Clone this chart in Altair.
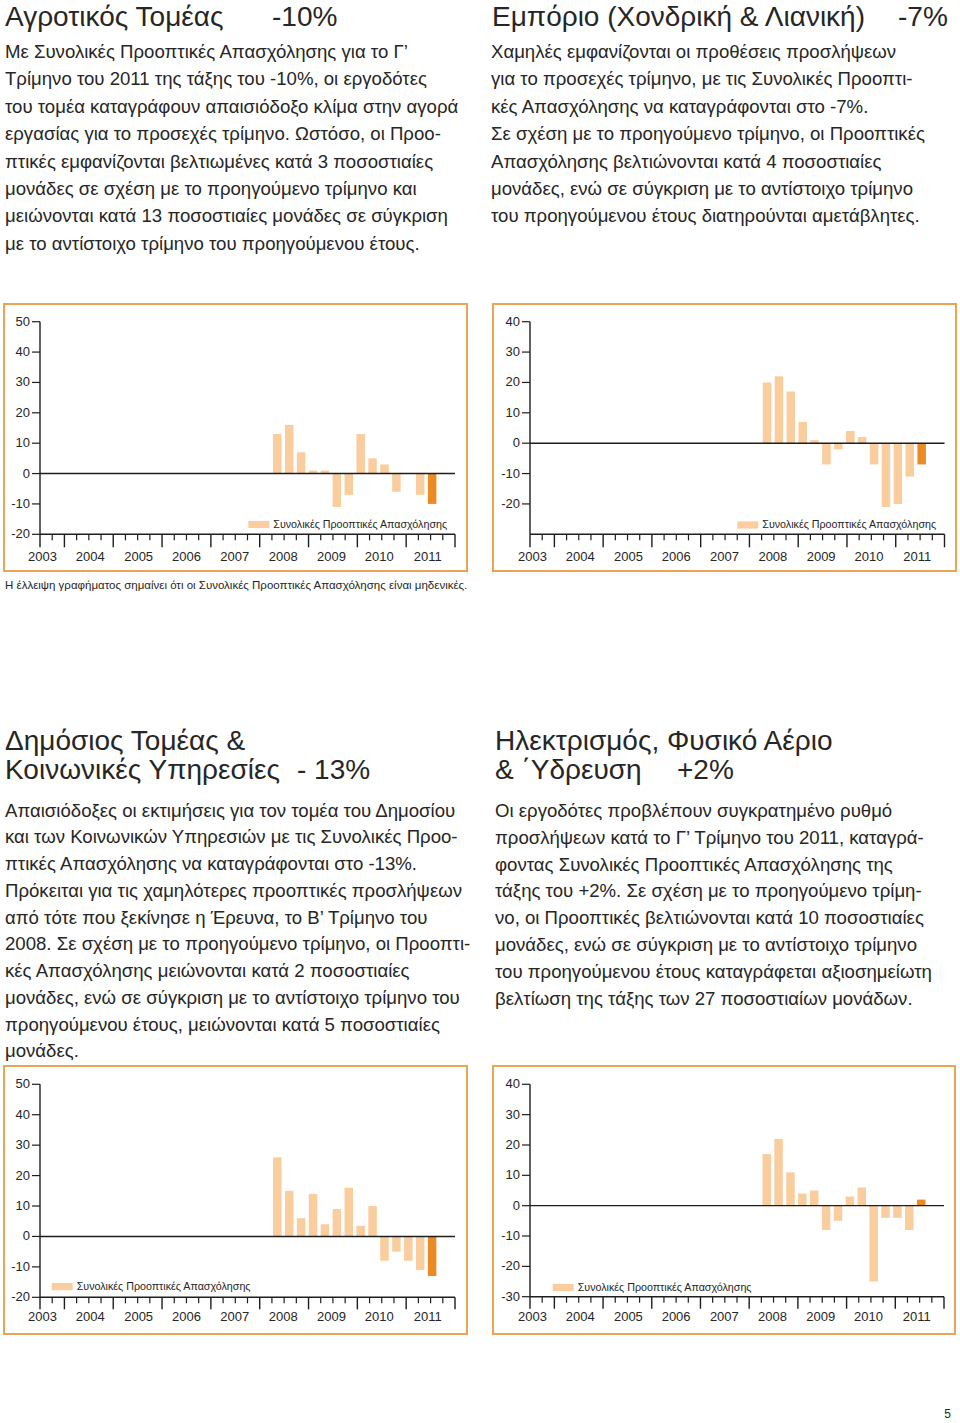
import altair as alt
import pandas as pd

FONT = "Liberation Sans"
TXT = "#262626"
LIGHT = "#F9CD9E"
DARK = "#EC8A24"
FRAME = "#EDA452"
AXIS = "#1e1e1e"
W, H = 960, 1423

# ---------------- data ----------------
quarters = ["2008Q2", "2008Q3", "2008Q4", "2009Q1", "2009Q2", "2009Q3", "2009Q4",
            "2010Q1", "2010Q2", "2010Q3", "2010Q4", "2011Q1", "2011Q2", "2011Q3"]
agri = [13, 16, 7, 1, 1, -11, -7, 13, 5, 3, -6, 0, -7, -10]
trade = [20, 22, 17, 7, 1, -7, -2, 4, 2, -7, -21, -20, -11, -7]
public = [26, 15, 6, 14, 4, 9, 16, 3.5, 10, -8, -5, -8, -11, -13]
utilities = [17, 22, 11, 4, 5, -8, -5, 3, 6, -25, -4, -4, -8, 2]

years = [2003, 2004, 2005, 2006, 2007, 2008, 2009, 2010, 2011]
year_labels = [str(y) for y in years]
year_label_pos = [2003.55, 2004.53, 2005.52, 2006.5, 2007.49, 2008.48, 2009.47, 2010.45, 2011.44]
yticks_50 = [50, 40, 30, 20, 10, 0, -10, -20]
yticks_40 = [40, 30, 20, 10, 0, -10, -20]
yticks_40b = [40, 30, 20, 10, 0, -10, -20, -30]
legend_label = "Συνολικές Προοπτικές Απασχόλησης"

X0, X1 = 2003.5, 2012.0
major_ticks = [X0] + [float(y) for y in range(2004, 2013)]
minor_ticks = [2003.75] + [y + k / 4 for y in range(2004, 2012) for k in (1, 2, 3)]


def qpos(q):
    return int(q[:4]) + (int(q[-1]) - 1) / 4 + 0.125


# identity pixel scales for page furniture (text, frames)
PX = alt.Scale(domain=[0, W], range=[0, W], nice=False, zero=False)
PY = alt.Scale(domain=[0, H], range=[0, H], nice=False, zero=False)


def panel(values, ydom, yticks, xr, yr, label_dy, tick_major, leg):
    xs = alt.Scale(domain=[X0, X1], range=xr, nice=False, zero=False)
    ys = alt.Scale(domain=ydom, range=yr, nice=False, zero=False)
    ymin, ymax = ydom
    X = lambda f: alt.X(f, type="quantitative", scale=xs, axis=None)
    Y = lambda f: alt.Y(f, type="quantitative", scale=ys, axis=None)

    df = pd.DataFrame({"t": [qpos(q) for q in quarters], "v": values, "base": 0})
    past = df.iloc[:-1]
    last = df.iloc[-1:]
    bars_p = alt.Chart(past).mark_bar(size=8.5, color=LIGHT).encode(x=X("t"), y=Y("v"), y2="base")
    bars_l = alt.Chart(last).mark_bar(size=8.5, color=DARK).encode(x=X("t"), y=Y("v"), y2="base")

    zero = alt.Chart(pd.DataFrame({"a": [X0], "b": [X1], "y": [0]})).mark_rule(
        color=AXIS, strokeWidth=1.4).encode(x=X("a"), x2="b", y=Y("y"))
    xaxis = alt.Chart(pd.DataFrame({"a": [X0], "b": [X1], "y": [ymin]})).mark_rule(
        color=AXIS, strokeWidth=1.4).encode(x=X("a"), x2="b", y=Y("y"))
    yaxis = alt.Chart(pd.DataFrame({"x": [X0], "a": [ymax], "b": [ymin]})).mark_rule(
        color=AXIS, strokeWidth=1.4).encode(x=X("x"), y=Y("a"), y2="b")

    ydf = pd.DataFrame({"x": X0, "v": yticks, "lab": [str(v) for v in yticks]})
    ytk = alt.Chart(ydf).mark_rule(color=AXIS, strokeWidth=1.2, xOffset=-8).encode(
        x=X("x"), x2="x", y=Y("v"))
    ylab = alt.Chart(ydf).mark_text(align="right", baseline="middle", dx=-10, font=FONT,
                                    fontSize=13, color=TXT).encode(x=X("x"), y=Y("v"), text="lab:N")

    mj = alt.Chart(pd.DataFrame({"t": major_ticks, "y": ymin})).mark_rule(
        color=AXIS, strokeWidth=1.4, y2Offset=tick_major).encode(x=X("t"), y=Y("y"), y2="y")
    mn = alt.Chart(pd.DataFrame({"t": minor_ticks, "y": ymin})).mark_rule(
        color=AXIS, strokeWidth=1.2, y2Offset=6).encode(x=X("t"), y=Y("y"), y2="y")
    xlab = alt.Chart(pd.DataFrame({"t": year_label_pos, "y": ymin, "lab": year_labels})).mark_text(
        align="center", baseline="middle", dy=label_dy, font=FONT, fontSize=13, color=TXT).encode(
        x=X("t"), y=Y("y"), text="lab:N")

    lx, ly = leg
    sw = alt.Chart(pd.DataFrame({"a": [lx], "b": [lx + 21], "c": [ly - 3.6], "d": [ly + 3.6]})).mark_rect(
        color=LIGHT).encode(
        x=alt.X("a:Q", scale=PX, axis=None), x2="b",
        y=alt.Y("c:Q", scale=PY, axis=None), y2="d")
    lt = alt.Chart(pd.DataFrame({"x": [lx + 25], "y": [ly], "lab": [legend_label]})).mark_text(
        align="left", baseline="middle", font=FONT, fontSize=10.7, color=TXT).encode(
        x=alt.X("x:Q", scale=PX, axis=None), y=alt.Y("y:Q", scale=PY, axis=None), text="lab:N")
    return [bars_p, bars_l, zero, yaxis, xaxis, ytk, ylab, mj, mn, xlab, sw, lt]


# ---------------- text blocks ----------------
tl_lines = [
    "Με Συνολικές Προοπτικές Απασχόλησης για το Γ’",
    "Τρίμηνο του 2011 της τάξης του -10%, οι εργοδότες",
    "του τομέα καταγράφουν απαισιόδοξο κλίμα στην αγορά",
    "εργασίας  για το προσεχές τρίμηνο. Ωστόσο, οι Προο-",
    "πτικές εμφανίζονται βελτιωμένες κατά 3 ποσοστιαίες",
    "μονάδες σε σχέση με το προηγούμενο τρίμηνο και",
    "μειώνονται  κατά 13 ποσοστιαίες μονάδες  σε σύγκριση",
    "με το αντίστοιχο τρίμηνο του προηγούμενου έτους.",
]
tr_lines = [
    "Χαμηλές εμφανίζονται οι προθέσεις  προσλήψεων",
    "για το προσεχές τρίμηνο, με τις Συνολικές Προοπτι-",
    "κές Απασχόλησης να καταγράφονται στο -7%.",
    "Σε σχέση με το προηγούμενο τρίμηνο, οι Προοπτικές",
    "Απασχόλησης βελτιώνονται κατά 4 ποσοστιαίες",
    "μονάδες, ενώ σε σύγκριση με το αντίστοιχο τρίμηνο",
    "του προηγούμενου έτους διατηρούνται αμετάβλητες.",
]
bl_lines = [
    "Απαισιόδοξες οι εκτιμήσεις για τον τομέα του Δημοσίου",
    "και των Κοινωνικών Υπηρεσιών με τις  Συνολικές Προο-",
    "πτικές Απασχόλησης να καταγράφονται στο -13%.",
    "Πρόκειται για τις χαμηλότερες  προοπτικές προσλήψεων",
    "από τότε που ξεκίνησε η Έρευνα, το Β’ Τρίμηνο του",
    "2008. Σε σχέση με το προηγούμενο τρίμηνο, οι Προοπτι-",
    "κές Απασχόλησης μειώνονται κατά 2 ποσοστιαίες",
    "μονάδες, ενώ σε σύγκριση με το αντίστοιχο τρίμηνο του",
    "προηγούμενου έτους, μειώνονται κατά 5 ποσοστιαίες",
    "μονάδες.",
]
br_lines = [
    "Οι εργοδότες προβλέπουν συγκρατημένο ρυθμό",
    "προσλήψεων κατά το Γ’ Τρίμηνο του 2011, καταγρά-",
    "φοντας Συνολικές Προοπτικές Απασχόλησης της",
    "τάξης του +2%. Σε σχέση με το προηγούμενο τρίμη-",
    "νο, οι Προοπτικές βελτιώνονται κατά 10 ποσοστιαίες",
    "μονάδες, ενώ σε σύγκριση με το αντίστοιχο τρίμηνο",
    "του προηγούμενου έτους καταγράφεται αξιοσημείωτη",
    "βελτίωση της τάξης των 27 ποσοστιαίων μονάδων.",
]
titles = [
    ("Αγροτικός Τομέας", 5, 26), ("-10%", 272, 26),
    ("Εμπόριο (Χονδρική & Λιανική)", 492, 26), ("-7%", 898, 26),
    ("Δημόσιος Τομέας &", 5, 750), ("Κοινωνικές Υπηρεσίες", 5, 778.5), ("- 13%", 297, 778.5),
    ("Ηλεκτρισμός, Φυσικό Αέριο", 495, 750), ("& ΄Υδρευση", 495, 778.5), ("+2%", 677, 778.5),
]
footnote = "Η έλλειψη γραφήματος σημαίνει ότι οι Συνολικές Προοπτικές Απασχόλησης είναι μηδενικές."
page_no = "5"

title_df = pd.DataFrame(titles, columns=["text", "x", "y"])
para_rows = []
for lines, x, y0, dy in [(tl_lines, 5, 58, 27.4), (tr_lines, 491, 58, 27.4),
                         (bl_lines, 5, 816.7, 26.75), (br_lines, 495, 816.7, 26.9)]:
    for i, l in enumerate(lines):
        para_rows.append({"x": x, "y": y0 + i * dy, "text": l})
para_df = pd.DataFrame(para_rows)
foot_df = pd.DataFrame({"x": [5], "y": [589], "text": [footnote]})
page_df = pd.DataFrame({"x": [951], "y": [1418], "text": [page_no]})


def text_layer(df, size, align="left"):
    return alt.Chart(df).mark_text(align=align, baseline="alphabetic", font=FONT, color=TXT,
                                   fontSize=size).encode(
        x=alt.X("x:Q", scale=PX, axis=None),
        y=alt.Y("y:Q", scale=PY, axis=None),
        text="text:N",
    )


frames_df = pd.DataFrame({
    "x": [4, 493, 4, 493], "x2": [467, 956, 467, 955],
    "y": [304, 304, 1066, 1066], "y2": [571, 571, 1334, 1334],
})
frames = alt.Chart(frames_df).mark_rect(fillOpacity=0, stroke=FRAME, strokeWidth=2).encode(
    x=alt.X("x:Q", scale=PX, axis=None), x2="x2:Q",
    y=alt.Y("y:Q", scale=PY, axis=None), y2="y2:Q",
)

layers = [frames, text_layer(title_df, 28), text_layer(para_df, 18.6),
          text_layer(foot_df, 11.5), text_layer(page_df, 12, "right")]
layers += panel(agri, [-20, 50], yticks_50, [40, 455], [534.3, 321.7], 23, 13, (248.3, 524.5))
layers += panel(trade, [-30, 40], yticks_40, [530, 944.5], [534.3, 321.7], 22.5, 13, (737.3, 525))
layers += panel(public, [-20, 50], yticks_50, [40, 455], [1297.3, 1084.3], 19.5, 12, (51.7, 1286.7))
layers += panel(utilities, [-30, 40], yticks_40b, [530, 944], [1296.7, 1084.3], 20, 12, (552.7, 1287.5))

chart = alt.layer(*layers).resolve_scale(
    x="independent", y="independent"
).properties(
    width=W, height=H, padding=0, background="white",
    autosize=alt.AutoSizeParams(type="none"),
).configure_view(stroke=None)

chart.save("out.html", embed_options={"renderer": "svg", "actions": False})
